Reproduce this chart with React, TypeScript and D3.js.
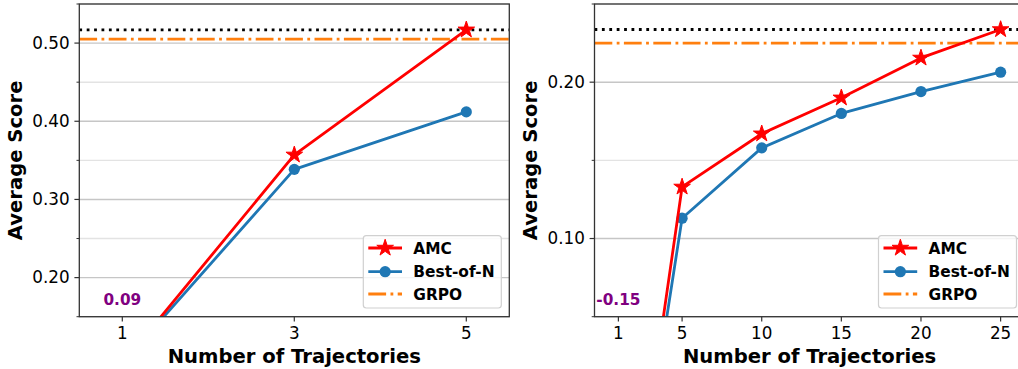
import React from "react";
import * as d3 from "d3";

// ---- Data ----
const leftX = [1, 3, 5];
const leftAMC = [0.09, 0.357, 0.517];
const leftBoN = [0.09, 0.3385, 0.412];
const leftGRPO = 0.505;
const leftXTicks = [1, 3, 5];
const leftYMajor = [0.2, 0.3, 0.4, 0.5];
const leftYMinor = [0.15, 0.25, 0.35, 0.45, 0.55];

const rightX = [1, 5, 10, 15, 20, 25];
const rightAMC = [-0.15, 0.133, 0.167, 0.19, 0.2155, 0.2337];
const rightBoN = [-0.15, 0.113, 0.158, 0.18, 0.194, 0.2064];
const rightGRPO = 0.225;
const rightXTicks = [1, 5, 10, 15, 20, 25];
const rightYMajor = [0.1, 0.2];
const rightYMinor = [0.05, 0.15, 0.25];

const seriesNames = ["AMC", "Best-of-N", "GRPO"];

const RED = "#ff0000";
const BLUE = "#1f77b4";
const ORANGE = "#ff7f0e";
const PURPLE = "#800080";
const FONT = "DejaVu Sans, sans-serif";

const W = 1018;
const H = 369;
const TOP = 4;
const BOTTOM = 316.7;

type PanelProps = {
  id: string;
  x0: number;
  x1: number;
  xDomain: [number, number];
  yDomain: [number, number];
  xs: number[];
  amc: number[];
  bon: number[];
  grpo: number;
  xTicks: number[];
  yMajor: number[];
  yMinor: number[];
};

const starPath = d3.symbol().type(d3.symbolStar).size(86)() as string;
const fmt = d3.formatLocale({ decimal: ".", thousands: ",", grouping: [3], currency: ["", ""], minus: "-" }).format(".2f");

function Panel(p: PanelProps) {
  const x = d3.scaleLinear().domain(p.xDomain).range([p.x0, p.x1]);
  const y = d3.scaleLinear().domain(p.yDomain).range([BOTTOM, TOP]);
  const line = d3
    .line<number>()
    .x((_, i) => x(p.xs[i]))
    .y((v) => y(v));
  const best = d3.max(p.amc) as number;
  const clipId = `clip-${p.id}`;
  const lw = 2.8;
  // legend
  const lgW = 138;
  const lgH = 72.3;
  const lgX = p.x1 - 8 - lgW;
  const lgY = BOTTOM - 8.7 - lgH;
  const rows = [lgY + 12.3, lgY + 36, lgY + 58.3];
  const hx0 = lgX + 5;
  const hx1 = lgX + 38.7;
  const hxm = (hx0 + hx1) / 2;
  const tx = lgX + 50;
  return (
    <g>
      <defs>
        <clipPath id={clipId}>
          <rect x={p.x0} y={TOP} width={p.x1 - p.x0} height={BOTTOM - TOP} />
        </clipPath>
      </defs>
      {/* grid */}
      {p.yMinor.map((t) => (
        <line key={"gm" + t} x1={p.x0} x2={p.x1} y1={y(t)} y2={y(t)} stroke="#e3e3e3" strokeWidth={1.4} />
      ))}
      {p.yMajor.map((t) => (
        <line key={"gM" + t} x1={p.x0} x2={p.x1} y1={y(t)} y2={y(t)} stroke="#c6c6c6" strokeWidth={1.4} />
      ))}
      <g clipPath={`url(#${clipId})`}>
        <line x1={p.x0} x2={p.x1} y1={y(p.grpo)} y2={y(p.grpo)} stroke={ORANGE} strokeWidth={lw} strokeDasharray="17.8,4.4,2.8,4.4" />
        <line x1={p.x0} x2={p.x1} y1={y(best)} y2={y(best)} stroke="#000" strokeWidth={lw} strokeDasharray="2.8,4.6" />
        <path d={line(p.bon) as string} fill="none" stroke={BLUE} strokeWidth={lw} strokeLinejoin="round" />
        {p.bon.map((v, i) => (
          <circle key={"c" + i} cx={x(p.xs[i])} cy={y(v)} r={5.6} fill={BLUE} />
        ))}
        <path d={line(p.amc) as string} fill="none" stroke={RED} strokeWidth={lw} strokeLinejoin="round" />
        {p.amc.map((v, i) => (
          <path key={"s" + i} d={starPath} transform={`translate(${x(p.xs[i])},${y(v)})`} fill={RED} stroke={RED} strokeWidth={1} />
        ))}
      </g>
      {/* annotation of value at x=1 */}
      <text x={x(p.xs[0])} y={305} textAnchor="middle" fontFamily={FONT} fontWeight="bold" fontSize={15.3} fill={PURPLE}>
        {fmt(p.amc[0])}
      </text>
      {/* spines */}
      <rect x={p.x0} y={TOP} width={p.x1 - p.x0} height={BOTTOM - TOP} fill="none" stroke="#333" strokeWidth={1.3} />
      {/* y ticks */}
      {p.yMajor.map((t) => (
        <g key={"yt" + t}>
          <line x1={p.x0 - 4.9} x2={p.x0} y1={y(t)} y2={y(t)} stroke="#333" strokeWidth={1.2} />
          <text x={p.x0 - 9.6} y={y(t)} dy="0.35em" textAnchor="end" fontFamily={FONT} fontSize={16.8} fill="#000">
            {fmt(t)}
          </text>
        </g>
      ))}
      {p.yMinor.map((t) => (
        <line key={"ym" + t} x1={p.x0 - 2.8} x2={p.x0} y1={y(t)} y2={y(t)} stroke="#333" strokeWidth={1} />
      ))}
      {/* x ticks */}
      {p.xTicks.map((t) => (
        <g key={"xt" + t}>
          <line x1={x(t)} x2={x(t)} y1={BOTTOM} y2={BOTTOM + 4.9} stroke="#333" strokeWidth={1.2} />
          <text x={x(t)} y={338.5} textAnchor="middle" fontFamily={FONT} fontSize={16.8} fill="#000">
            {t}
          </text>
        </g>
      ))}
      {/* axis labels */}
      <text x={(p.x0 + p.x1) / 2} y={363} textAnchor="middle" fontFamily={FONT} fontWeight="bold" fontSize={19.6} fill="#000">
        Number of Trajectories
      </text>
      <text
        transform={`translate(${p.x0 - 57.6},${(TOP + BOTTOM) / 2}) rotate(-90)`}
        textAnchor="middle"
        fontFamily={FONT}
        fontWeight="bold"
        fontSize={19.6}
        fill="#000"
      >
        Average Score
      </text>
      {/* legend */}
      <rect x={lgX} y={lgY} width={lgW} height={lgH} rx={3} fill="#fff" fillOpacity={0.8} stroke="#d0d0d0" strokeWidth={1.2} />
      <line x1={hx0} x2={hx1} y1={rows[0]} y2={rows[0]} stroke={RED} strokeWidth={lw} />
      <path d={starPath} transform={`translate(${hxm},${rows[0]})`} fill={RED} stroke={RED} strokeWidth={1} />
      <line x1={hx0} x2={hx1} y1={rows[1]} y2={rows[1]} stroke={BLUE} strokeWidth={lw} />
      <circle cx={hxm} cy={rows[1]} r={5.6} fill={BLUE} />
      <line x1={hx0} x2={hx1} y1={rows[2]} y2={rows[2]} stroke={ORANGE} strokeWidth={lw} strokeDasharray="17.8,4.4,2.8,4.4" />
      {seriesNames.map((n, i) => (
        <text key={n} x={tx} y={rows[i]} dy="0.36em" fontFamily={FONT} fontWeight="bold" fontSize={15.4} fill="#000">
          {n}
        </text>
      ))}
    </g>
  );
}

export default function App() {
  return (
    <div style={{ position: "absolute", left: 0, top: 0, width: W, height: H, background: "#fff" }}>
      <svg width={W} height={H} viewBox={`0 0 ${W} ${H}`} style={{ display: "block" }}>
        <rect width={W} height={H} fill="#fff" />
        <Panel
          id="l"
          x0={79.3}
          x1={509.3}
          xDomain={[0.5, 5.5]}
          yDomain={[0.15, 0.55]}
          xs={leftX}
          amc={leftAMC}
          bon={leftBoN}
          grpo={leftGRPO}
          xTicks={leftXTicks}
          yMajor={leftYMajor}
          yMinor={leftYMinor}
        />
        <Panel
          id="r"
          x0={594.5}
          x1={1024.5}
          xDomain={[-0.5, 26.5]}
          yDomain={[0.05, 0.25]}
          xs={rightX}
          amc={rightAMC}
          bon={rightBoN}
          grpo={rightGRPO}
          xTicks={rightXTicks}
          yMajor={rightYMajor}
          yMinor={rightYMinor}
        />
      </svg>
    </div>
  );
}
